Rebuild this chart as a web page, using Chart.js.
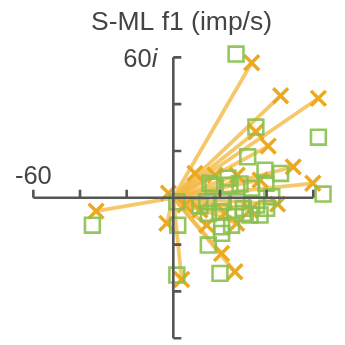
<!DOCTYPE html>
<html>
<head>
<meta charset="utf-8">
<script src="https://cdn.jsdelivr.net/npm/chart.js@4"></script>
<style>
  html, body { margin: 0; padding: 0; background: #fff; }
  #wrap { width: 345px; height: 345px; position: relative; }
</style>
</head>
<body>
<div id="wrap"><canvas id="chart"></canvas></div>
<script>
// vectors (real, imaginary) drawn as X with a line from the origin
const vecRe = [33.6, 46.0, 62.2, 35.4, 40.7, 51.4, 59.8, 44.7, 26.4, 20.7, 14.3, 27.2, 3.6, -2.8, -33.1, -2.1, 17.9, 27.4, 37.2, 9.3, 22.2, 32.9, 11.4, 5.0];
const vecIm = [57.7, 43.6, 42.5, 28.2, 22.1, 13.2, 6.2, -2.7, -31.6, -23.8, -11.7, -10.9, -34.9, -10.9, -5.7, 2.0, 9.7, 9.7, 7.6, 10.4, -6.5, -5.3, -5.3, -3.1];

// second set drawn as open squares
const sqRe = [26.9, 35.4, 62.2, 31.9, 39.3, 46.0, 39.7, 64.2, 15.7, 23.4, 28.6, 33.6, 14.3, 21.4, 27.2, 30.0, 35.7, 40.0, 15.0, 20.0, 32.9, 37.2, 20.7, 25.0, 20.7, 15.0, 20.0, 1.5, 1.9, 1.5, -34.7, 42.2, 30.0, 11.4, 17.0, 24.3];
const sqIm = [61.4, 30.2, 25.9, 17.5, 11.8, 10.4, 6.2, 1.6, 6.2, 8.4, 5.9, 4.1, -1.7, -1.7, -1.7, -4.5, -3.1, -4.5, -6.7, -6.0, -7.4, -7.4, -12.4, -11.7, -15.2, -20.2, -32.3, -33.0, -11.7, -1.7, -11.7, 0.4, -6.7, -3.5, 5.0, 5.4];

const axisTicks = [-60, -40, -20, 20, 40, 60];
const chartTitle = 'S-ML f1 (imp/s)';

const axisColor = '#555555';
const textColor = '#444444';
const fontFamily = '"Liberation Sans", Arial, sans-serif';

const vecPoints = vecRe.map((x, i) => ({ x: x, y: vecIm[i] }));
const sqPoints = sqRe.map((x, i) => ({ x: x, y: sqIm[i] }));

const datasets = [
    {
        data: sqPoints,
        pointStyle: 'rect',
        pointRadius: 10.5,
        pointBorderWidth: 2.6,
        pointBackgroundColor: 'rgba(0,0,0,0)',
        pointBorderColor: 'rgba(137,192,78,0.9)',
        showLine: false
    },
    {
        data: vecPoints,
        pointStyle: 'crossRot',
        pointRadius: 10.5,
        pointBorderWidth: 3.5,
        pointBorderColor: '#EBA920',
        showLine: false
    }
];
vecPoints.forEach(p => {
    datasets.push({
        data: [{ x: 0, y: 0 }, p],
        showLine: true,
        borderColor: 'rgba(243,186,70,0.8)',
        borderWidth: 3.8,
        pointRadius: 0
    });
});

const complexAxes = {
    id: 'complexAxes',
    afterDatasetsDraw(chart) {
        const ctx = chart.ctx;
        const xs = chart.scales.x, ys = chart.scales.y;
        const x0 = xs.getPixelForValue(0), y0 = ys.getPixelForValue(0);
        ctx.save();
        ctx.strokeStyle = axisColor;
        ctx.lineWidth = 2.6;
        ctx.lineCap = 'butt';
        ctx.beginPath();
        ctx.moveTo(xs.getPixelForValue(-60), y0);
        ctx.lineTo(xs.getPixelForValue(60), y0);
        ctx.moveTo(x0, ys.getPixelForValue(60));
        ctx.lineTo(x0, ys.getPixelForValue(-60));
        axisTicks.forEach(t => {
            const px = xs.getPixelForValue(t);
            ctx.moveTo(px, y0);
            ctx.lineTo(px, y0 - 8);
            const py = ys.getPixelForValue(t);
            ctx.moveTo(x0, py);
            ctx.lineTo(x0 + 8, py);
        });
        ctx.stroke();
        ctx.restore();
    },
    afterDraw(chart) {
        const ctx = chart.ctx;
        const xs = chart.scales.x, ys = chart.scales.y;
        ctx.save();
        ctx.fillStyle = textColor;
        ctx.textBaseline = 'alphabetic';
        ctx.font = '26.5px ' + fontFamily;
        ctx.textAlign = 'center';
        ctx.fillText(chartTitle, 181.5, 30);

        ctx.font = '25.5px ' + fontFamily;
        ctx.fillText('-60', xs.getPixelForValue(-60), ys.getPixelForValue(0) - 14);

        const right = xs.getPixelForValue(0) - 16;
        const base = ys.getPixelForValue(60) + 10;
        ctx.textAlign = 'right';
        ctx.font = 'italic 25.5px ' + fontFamily;
        const iw = ctx.measureText('i').width;
        ctx.fillText('i', right, base);
        ctx.font = '25.5px ' + fontFamily;
        ctx.fillText('60', right - iw, base);
        ctx.restore();
    }
};

new Chart(document.getElementById('chart'), {
    type: 'scatter',
    data: { datasets: datasets },
    options: {
        responsive: true,
        maintainAspectRatio: false,
        animation: false,
        layout: { padding: 0, autoPadding: false },
        plugins: {
            legend: { display: false },
            tooltip: { enabled: false },
            title: { display: false }
        },
        scales: {
            x: { type: 'linear', min: -74.3, max: 73.6, display: false },
            y: { type: 'linear', min: -62.9, max: 84.5, display: false }
        }
    },
    plugins: [complexAxes]
});
</script>
</body>
</html>
